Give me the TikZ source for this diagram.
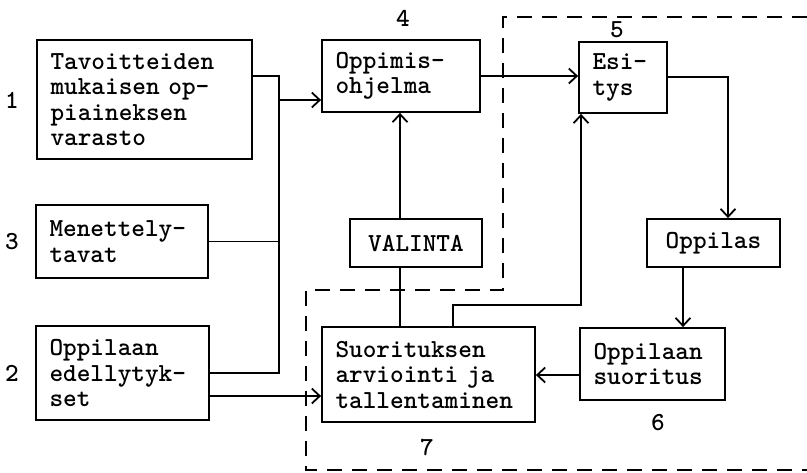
\documentclass[tikz,border=0pt]{standalone}
\usepackage{fontspec}
\usetikzlibrary{arrows.meta}
\begin{document}
\begin{tikzpicture}[x=1pt,y=-1pt,
  every node/.style={font=\ttfamily\bfseries\fontsize{26}{25.5}\selectfont},
  box/.style={draw, line width=1.8pt, inner xsep=13.5pt, inner ysep=0pt, align=left, anchor=center},
  cbox/.style={box, align=center},
  lbl/.style={inner sep=0pt},
  conn/.style={line width=1.8pt},
  arr/.style={conn, -{Straight Barb[length=8pt,width=15pt,line width=1.8pt]}},
  dashbox/.style={line width=1.8pt, dash pattern=on 15pt off 10pt}
]
\useasboundingbox (0,0) rectangle (807,472);
\fill[white] (0,0) rectangle (807,472);

% boxes
\node[box, text width=188pt, minimum height=119pt] (b1) at (144.5,99.5) {Tavoitteiden\\mukaisen op-\\piaineksen\\varasto};
\node[box, text width=145pt, minimum height=73pt] (b3) at (122,241.5) {Menettely-\\tavat};
\node[box, text width=146pt, minimum height=94pt] (b2) at (122.5,373) {Oppilaan\\edellytyk-\\set};
\node[box, text width=131pt, minimum height=72pt] (b4) at (401,76) {Oppimis-\\ohjelma};
\node[box, text width=61pt, minimum height=71pt] (b5) at (623,77.5) {Esi-\\tys};
\node[cbox, text width=106pt, minimum height=48pt] (opp) at (713.5,243) {Oppilas};
\node[box, text width=118pt, minimum height=72pt] (suor) at (652.5,364) {Oppilaan\\suoritus};
\node[cbox, text width=105pt, minimum height=48pt] (val) at (416,243) {VALINTA};
\node[box, text width=186pt, minimum height=95pt] (sk) at (428.5,374.5) {Suorituksen\\arviointi ja\\tallentaminen};

% number labels
\node[lbl] (n1) at (12,100) {1};
\node[lbl] (n3) at (12,242) {3};
\node[lbl] (n2) at (12,373) {2};
\node[lbl] (n4) at (403,18) {4};
\node[lbl] (n5) at (617,30) {5};
\node[lbl] (n6) at (658,423) {6};
\node[lbl] (n7) at (427,447) {7};

% helper coordinates
\coordinate (sp1) at (279,76);
\coordinate (sp2) at (279,373);
\coordinate (j4) at (279,100);
\coordinate (y396) at (0,396);
\coordinate (c5) at (728,77);
\coordinate (x683) at (683,0);
\coordinate (y375) at (0,375);
\coordinate (x400) at (400,0);
\coordinate (k1) at (453,305);
\coordinate (k2) at (581,305);

% connectors
\draw[conn] (b1.east |- sp1) -- (sp1) -- (sp2) -- (b2.east |- sp2);
\draw[conn] (b3.east) -- (b3.east -| sp1);
\draw[arr] (j4) -- (b4.west |- j4);
\draw[arr] (b2.east |- y396) -- (sk.west |- y396);
\draw[arr] (b4.east) -- (b4.east -| b5.west);
\draw[arr] (b5.east |- c5) -- (c5) -- (c5 |- opp.north);
\draw[arr] (opp.south -| x683) -- (suor.north -| x683);
\draw[arr] (suor.west |- y375) -- (sk.east |- y375);
\draw[conn] (sk.north -| x400) -- (val.south -| x400);
\draw[arr] (val.north -| x400) -- (b4.south -| x400);
\draw[arr] (sk.north -| k1) -- (k1) -- (k2) -- (b5.south -| k2);

% dashed boundary
\draw[dashbox] (807,17) -- (503,17) -- (503,290) -- (306,290) -- (306,470) -- (807,470);
\end{tikzpicture}
\end{document}
